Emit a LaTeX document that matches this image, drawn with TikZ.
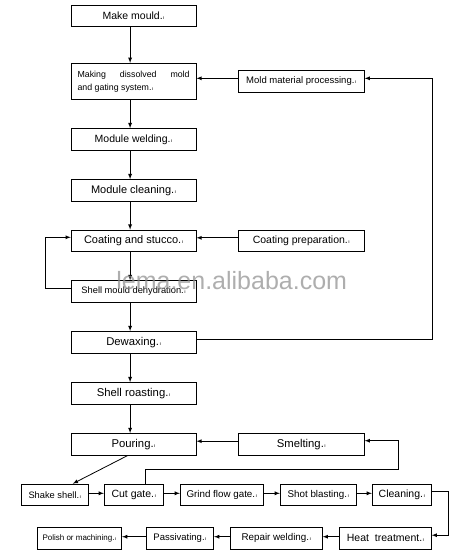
\documentclass[tikz,border=0pt]{standalone}
\usepackage{fontspec}
\setmainfont{Liberation Sans}
\usetikzlibrary{arrows}

\newcommand{\pmark}{{\fontsize{5}{5}\selectfont\kern0.5pt ı}}

\begin{document}
\begin{tikzpicture}[x=1pt,y=-1pt,
	stepbox/.style={draw, line width=0.8pt, inner sep=1pt, minimum height=21.5pt, font=\fontsize{10.5}{12}\selectfont},
	flow/.style={-latex, line width=0.8pt}]
					\useasboundingbox (0,0) rectangle (462,558);
					\node[stepbox, minimum width=125pt] (mould) at (133.6,15.7) {Make mould.\pmark};
					\node[stepbox, minimum width=125pt, minimum height=36pt, text width=112pt, inner xsep=6.5pt, align=justify, font=\fontsize{8.8}{13}\selectfont] (dissolved) at (133.6,81.3) {Making dissolved mold\linebreak and gating system.\pmark};
					\node[stepbox, minimum width=126pt, font=\fontsize{9.5}{11}\selectfont] (material) at (301.3,81.3) {Mold material processing.\pmark};
					\node[stepbox, minimum width=125pt] (welding) at (133.6,139.3) {Module welding.\pmark};
					\node[stepbox, minimum width=125pt, font=\fontsize{11}{12}\selectfont] (cleaning) at (133.6,190.3) {Module cleaning.\pmark};
					\node[stepbox, minimum width=125pt, font=\fontsize{11}{12}\selectfont] (coating) at (133.6,240.8) {Coating and stucco.\pmark};
					\node[stepbox, minimum width=126pt] (prep) at (301.3,240.8) {Coating preparation.\pmark};
					\node[stepbox, minimum width=125pt, font=\fontsize{9.3}{11}\selectfont] (dehyd) at (133.6,291.3) {Shell mould dehydration.\pmark};
					\node[stepbox, minimum width=125pt, font=\fontsize{11.3}{12}\selectfont] (dewax) at (133.6,342.2) {Dewaxing.\pmark};
					\node[stepbox, minimum width=125pt, font=\fontsize{11.3}{12}\selectfont] (roast) at (133.6,393.3) {Shell roasting.\pmark};
					\node[stepbox, minimum width=125pt, font=\fontsize{11.3}{12}\selectfont] (pour) at (133.6,444.2) {Pouring.\pmark};
					\node[stepbox, minimum width=126pt, font=\fontsize{11.3}{12}\selectfont] (smelt) at (301.3,444.2) {Smelting.\pmark};
					\node[stepbox, minimum width=67pt, font=\fontsize{9.3}{11}\selectfont] (shake) at (54.8,494.8) {Shake shell.\pmark};
					\node[stepbox, minimum width=59pt] (cut) at (133.8,494.8) {Cut gate.\pmark};
					\node[stepbox, minimum width=83pt, font=\fontsize{9.8}{11}\selectfont] (grind) at (221.8,494.8) {Grind flow gate.\pmark};
					\node[stepbox, minimum width=76pt, font=\fontsize{9.8}{11}\selectfont] (shot) at (318.3,494.8) {Shot blasting.\pmark};
					\node[stepbox, minimum width=59pt] (clean) at (401.8,494.8) {Cleaning.\pmark};
					\node[stepbox, minimum width=84.4pt, font=\fontsize{8}{10}\selectfont] (polish) at (79.5,538.2) {Polish or machining.\pmark};
					\node[stepbox, minimum width=67.4pt, font=\fontsize{9.5}{11}\selectfont] (passiv) at (180,538.2) {Passivating.\pmark};
					\node[stepbox, minimum width=92pt, font=\fontsize{9.8}{11}\selectfont] (repair) at (276.3,538.2) {Repair welding.\pmark};
					\node[stepbox, minimum width=91.6pt] (heat) at (385.5,538.2) {Heat\ \ treatment.\pmark};
					\coordinate (rside) at (432,0);
					\coordinate (bend) at (398.3,469.3);
					\foreach \a/\b in {mould/dissolved,dissolved/welding,welding/cleaning,cleaning/coating,coating/dehyd,dehyd/dewax,dewax/roast,roast/pour}
					\draw[flow] ([xshift=-3.5pt]\a.south) -- ([xshift=-3.5pt]\b.north);
					\foreach \a/\b in {material/dissolved,prep/coating,smelt/pour}
					\draw[flow] ([yshift=3pt]\a.west) -- ([yshift=3pt]\b.east);
					\foreach \a/\b in {shake/cut,cut/grind,grind/shot,shot/clean}
					\draw[flow] ([yshift=1.5pt]\a.east) -- ([yshift=1.5pt]\b.west);
					\foreach \a/\b in {heat/repair,repair/passiv,passiv/polish}
					\draw[flow] ([yshift=1.5pt]\a.west) -- ([yshift=1.5pt]\b.east);
					\draw[flow] ([yshift=3pt]dewax.east) -| ([yshift=3pt]material.east -| rside) -- ([yshift=3pt]material.east);
					\draw[flow] ([yshift=3pt]dehyd.west) -- ++(-25,0) |- ([yshift=3.5pt]coating.west);
					\draw[flow] ([xshift=-5.6pt]pour.south) -- ([xshift=18pt]shake.north);
					\draw[flow] ([xshift=12pt]cut.north) |- (bend) |- ([yshift=3.5pt]smelt.east);
					\draw[flow] ([yshift=3.5pt]clean.east) -- ++(17,0) |- ([yshift=3pt]heat.east);
					\node[anchor=base, text=black!45, opacity=0.7, font=\fontsize{25}{25}\selectfont] (mark) at (231.7,289.5) {lema.en.alibaba.com};
				\end{tikzpicture}
\end{document}
